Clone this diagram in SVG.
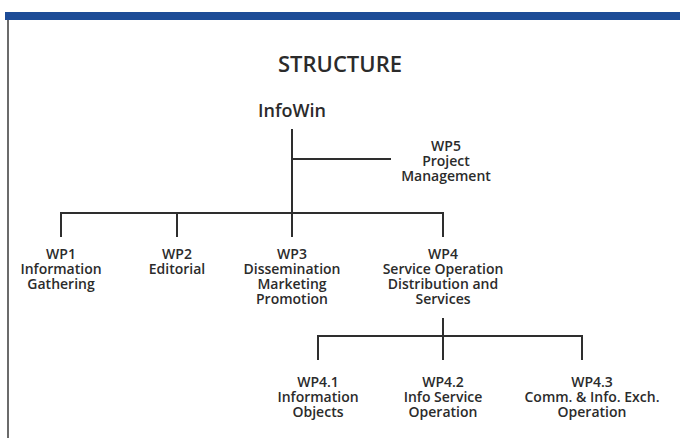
<svg xmlns="http://www.w3.org/2000/svg" width="680" height="441" viewBox="0 0 680 441">
<style>
.t{font-family:"Open Sans","Liberation Sans",sans-serif;font-weight:600;fill:#2b2b2b;text-anchor:middle}
.l{font-size:14px}
.c{stroke:#2e2e2e;stroke-width:2;fill:none}
</style>
<rect x="0" y="0" width="680" height="441" fill="#ffffff"/>
<rect x="5" y="12" width="675" height="8" fill="#1d4c97"/>
<line x1="8" y1="20" x2="8" y2="438" stroke="#3a3a3a" stroke-width="1.5"/>
<text class="t" x="340" y="72" font-size="22" font-weight="700">STRUCTURE</text>
<g id="connectors" class="c">
<path d="M292 129V237"/>
<path d="M292 159H391"/>
<path d="M61 237V213H443V237"/>
<path d="M177 213V237"/>
<path d="M443 318V360"/>
<path d="M318 360V336H582V360"/>
</g>
<g id="infowin"><text class="t" x="292" y="117" font-size="18">InfoWin</text></g>
<g id="wp5"><text class="t l" x="446" y="151">WP5<tspan x="446" y="166">Project</tspan><tspan x="446" y="181">Management</tspan></text></g>
<g id="wp1"><text class="t l" x="61" y="259">WP1<tspan x="61" y="274">Information</tspan><tspan x="61" y="289">Gathering</tspan></text></g>
<g id="wp2"><text class="t l" x="177" y="259">WP2<tspan x="177" y="274">Editorial</tspan></text></g>
<g id="wp3"><text class="t l" x="292" y="259">WP3<tspan x="292" y="274">Dissemination</tspan><tspan x="292" y="289">Marketing</tspan><tspan x="292" y="304">Promotion</tspan></text></g>
<g id="wp4"><text class="t l" x="443" y="259">WP4<tspan x="443" y="274">Service Operation</tspan><tspan x="443" y="289">Distribution and</tspan><tspan x="443" y="304">Services</tspan></text></g>
<g id="wp41"><text class="t l" x="318" y="387">WP4.1<tspan x="318" y="402">Information</tspan><tspan x="318" y="417">Objects</tspan></text></g>
<g id="wp42"><text class="t l" x="443" y="387">WP4.2<tspan x="443" y="402">Info Service</tspan><tspan x="443" y="417">Operation</tspan></text></g>
<g id="wp43"><text class="t l" x="592" y="387">WP4.3<tspan x="592" y="402">Comm. &amp; Info. Exch.</tspan><tspan x="592" y="417">Operation</tspan></text></g>
</svg>
